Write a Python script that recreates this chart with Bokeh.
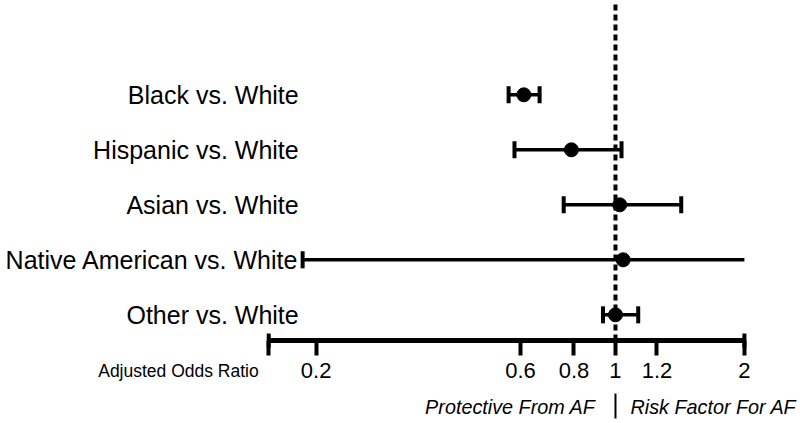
import math
from bokeh.plotting import figure
from bokeh.models import Range1d, FixedTicker, Label, ColumnDataSource
from bokeh.core.properties import value
from bokeh.embed import file_html
from bokeh.resources import INLINE

# ---- data ----
groups = ["Black vs. White", "Hispanic vs. White", "Asian vs. White",
          "Native American vs. White", "Other vs. White"]
odds_ratio = [0.611, 0.789, 1.023, 1.042, 1.00]
ci_low = [0.563, 0.581, 0.757, 0.186, 0.935]
ci_high = [0.665, 1.033, 1.424, 2.0, 1.13]   # Native American upper CI runs past the axis end (2)
tick_values = [0.2, 0.6, 0.8, 1, 1.25, 2]
tick_labels = ["0.2", "0.6", "0.8", "1", "1.2", "2"]
axis_min, axis_max = 0.155, 2.0

FONT = "Liberation Sans"
rows = list(range(len(groups), 0, -1))  # top row = 5
Y_TOP, Y_BOTTOM = 6.715, -0.976
AXIS_Y = 0.533
CAPTION_Y = -0.676

p = figure(width=800, height=423, x_axis_type="log",
           x_range=Range1d(0.03665, 2.704), y_range=Range1d(Y_BOTTOM, Y_TOP),
           output_backend="svg", toolbar_location=None, y_axis_location=None,
           min_border_left=0, min_border_right=0, min_border_top=0, min_border_bottom=0)
p.grid.visible = False
p.outline_line_color = None
p.background_fill_color = "white"
p.border_fill_color = "white"

ax = p.xaxis[0]
ax.fixed_location = AXIS_Y
ax.ticker = FixedTicker(ticks=[axis_min] + tick_values, minor_ticks=[])
overrides = {axis_min: ""}
for v, l in zip(tick_values, tick_labels):
    overrides[v] = l
ax.major_label_overrides = overrides
ax.bounds = (axis_min, axis_max)
ax.axis_line_width = 5
ax.axis_line_color = "black"
ax.major_tick_line_width = 4
ax.major_tick_line_color = "black"
ax.major_tick_out = 15
ax.major_tick_in = 0
ax.minor_tick_line_color = None
ax.major_label_text_font = FONT
ax.major_label_text_font_size = "22px"
ax.major_label_text_color = "black"
ax.major_label_standoff = 7

# reference line at OR = 1 (from axis up to top)
p.segment(x0=[1], x1=[1], y0=[AXIS_Y], y1=[Y_TOP], line_color="black",
          line_width=4, line_dash="6 4")

src = ColumnDataSource(dict(y=rows, orr=odds_ratio, lo=ci_low, hi=ci_high, name=groups))
p.segment(x0="lo", x1="hi", y0="y", y1="y", source=src, line_color="black", line_width=3.5)
p.scatter(x="lo", y="y", source=src, marker="dash", angle=math.pi / 2, size=17,
          line_color="black", line_width=4)
cap_y = [r for r, h in zip(rows, ci_high) if h < axis_max]
cap_x = [h for h in ci_high if h < axis_max]
p.scatter(x=cap_x, y=cap_y, marker="dash", angle=math.pi / 2, size=17,
          line_color="black", line_width=4)
p.scatter(x="orr", y="y", source=src, marker="circle", size=14,
          fill_color="black", line_color="black")

# axis end caps
p.scatter(x=[axis_min, axis_max], y=[AXIS_Y, AXIS_Y], marker="dash", angle=math.pi / 2,
          size=14, line_color="black", line_width=4)

# row labels
p.text(x=[axis_min] * len(groups), y=rows, text=groups, x_offset=30,
       text_align="right", text_baseline="middle", text_font=value(FONT),
       text_font_size="25px", text_color="black")

p.add_layout(Label(x=axis_min, y=-0.013, x_offset=-10, text="Adjusted Odds Ratio",
                   text_align="right", text_baseline="middle", text_font=FONT,
                   text_font_size="17.5px", text_color="black"))
p.add_layout(Label(x=1, y=CAPTION_Y, x_offset=-20, text="Protective From AF",
                   text_align="right", text_baseline="middle", text_font=FONT,
                   text_font_style="italic", text_font_size="19.8px", text_color="black"))
p.add_layout(Label(x=1, y=CAPTION_Y, x_offset=15, text="Risk Factor For AF",
                   text_align="left", text_baseline="middle", text_font=FONT,
                   text_font_style="italic", text_font_size="19.8px", text_color="black"))
# divider between the two captions
p.segment(x0=[1], x1=[1], y0=[-0.431], y1=[-0.885], line_color="black", line_width=2)

open("out.html", "w").write(file_html(p, INLINE))
